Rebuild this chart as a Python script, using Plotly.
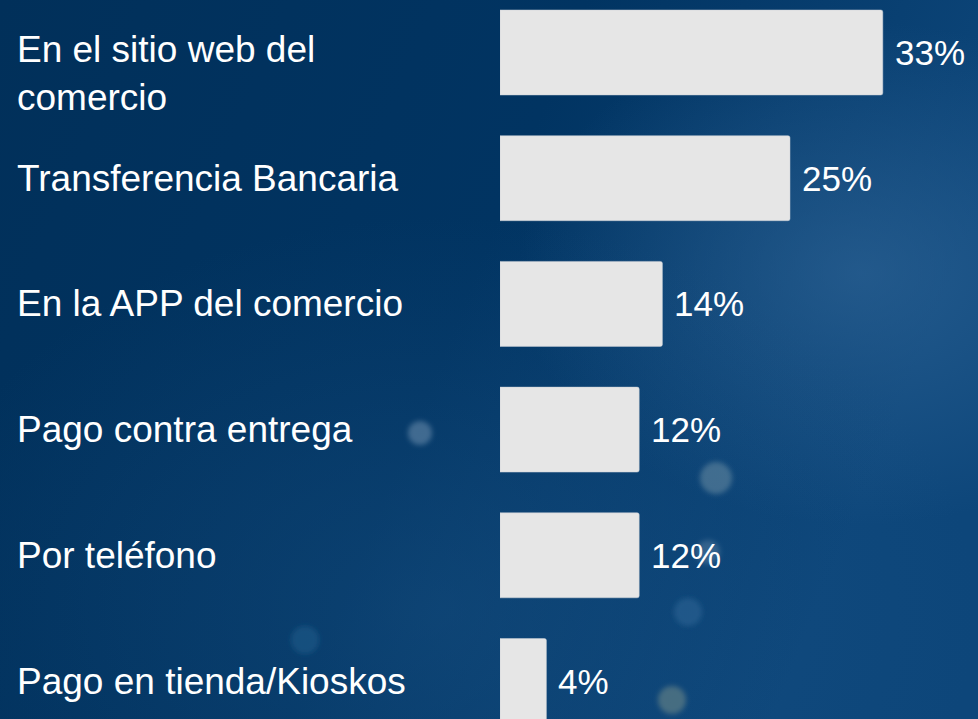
import base64

import plotly.graph_objects as go

# data
categories = [
    "En el sitio web del<br>comercio",
    "Transferencia Bancaria",
    "En la APP del comercio",
    "Pago contra entrega",
    "Por teléfono",
    "Pago en tienda/Kioskos",
]
values = [33, 25, 14, 12, 12, 4]
value_labels = ["33%", "25%", "14%", "12%", "12%", "4%"]

W, H = 978, 719
LEFT = 500
FONT = "Liberation Sans, Arial, sans-serif"

# soft blue backdrop (gradient + a few blurred glows), drawn as an inline svg
BG_SVG = f"""<svg xmlns="http://www.w3.org/2000/svg" width="{W}" height="{H}" viewBox="0 0 {W} {H}">
<defs>
<linearGradient id="g" x1="0" y1="0" x2="1" y2="0.3">
<stop offset="0" stop-color="#01305a"/>
<stop offset="0.55" stop-color="#013462"/>
<stop offset="1" stop-color="#0d467a"/>
</linearGradient>
<radialGradient id="r1" cx="0.88" cy="0.38" r="0.35">
<stop offset="0" stop-color="#2f6597" stop-opacity="0.65"/>
<stop offset="1" stop-color="#2f6597" stop-opacity="0"/>
</radialGradient>
<radialGradient id="r2" cx="0.45" cy="0.85" r="0.55">
<stop offset="0" stop-color="#1d5689" stop-opacity="0.4"/>
<stop offset="1" stop-color="#1d5689" stop-opacity="0"/>
</radialGradient>
<filter id="b" x="-50%" y="-50%" width="200%" height="200%"><feGaussianBlur stdDeviation="2.5"/></filter>
</defs>
<rect width="{W}" height="{H}" fill="url(#g)"/>
<rect width="{W}" height="{H}" fill="url(#r1)"/>
<rect width="{W}" height="{H}" fill="url(#r2)"/>
<g filter="url(#b)">
<circle cx="420" cy="433" r="12" fill="#6f8fae" opacity="0.55"/>
<circle cx="716" cy="478" r="16" fill="#7f9eae" opacity="0.45"/>
<circle cx="708" cy="552" r="12" fill="#8aa6bc" opacity="0.3"/>
<circle cx="688" cy="612" r="14" fill="#2f6a9a" opacity="0.5"/>
<circle cx="672" cy="700" r="14" fill="#8a9c8c" opacity="0.45"/>
<circle cx="305" cy="640" r="14" fill="#1f5f8f" opacity="0.5"/>
</g>
</svg>"""
bg_uri = "data:image/svg+xml;base64," + base64.b64encode(BG_SVG.encode()).decode()

plot_w = W - LEFT
px_per_pct = 11.6
row_px = 125.7
first_center = 52.5

fig = go.Figure(
    go.Bar(
        x=values,
        y=categories,
        orientation="h",
        marker=dict(color="#e6e6e6", line=dict(color="#c9ced6", width=0.5), cornerradius=2),
        hoverinfo="x+y",
    )
)

# category labels, left aligned at the figure edge
for cat in categories:
    fig.add_annotation(
        x=(15 - LEFT) / plot_w,
        xref="paper",
        y=cat,
        yref="y",
        text=cat,
        showarrow=False,
        xanchor="left",
        align="left",
        yshift=-21 if "<br>" in cat else 0,
        font=dict(family=FONT, size=37, color="white"),
    )

# value labels next to the bars
for cat, v, lab in zip(categories, values, value_labels):
    fig.add_annotation(
        x=v,
        y=cat,
        text=lab,
        showarrow=False,
        xanchor="left",
        xshift=10,
        font=dict(family=FONT, size=35, color="white"),
    )

fig.add_layout_image(
    dict(
        source=bg_uri,
        xref="paper",
        yref="paper",
        x=-LEFT / plot_w,
        y=1,
        sizex=W / plot_w,
        sizey=1,
        sizing="stretch",
        xanchor="left",
        yanchor="top",
        layer="below",
    )
)

top = -first_center / row_px
bottom = top + H / row_px

fig.update_layout(
    width=W,
    height=H,
    margin=dict(l=LEFT, r=0, t=0, b=0),
    paper_bgcolor="#01305a",
    plot_bgcolor="rgba(0,0,0,0)",
    bargap=0.324,
    showlegend=False,
    xaxis=dict(range=[0, plot_w / px_per_pct], visible=False, fixedrange=True),
    yaxis=dict(range=[bottom, top], visible=False, fixedrange=True),
)

# drop the default page margin so the chart fills the window
fig.write_html(
    "out.html",
    config={"displayModeBar": False},
    post_script="document.body.style.margin='0';document.body.style.overflow='hidden';",
)
